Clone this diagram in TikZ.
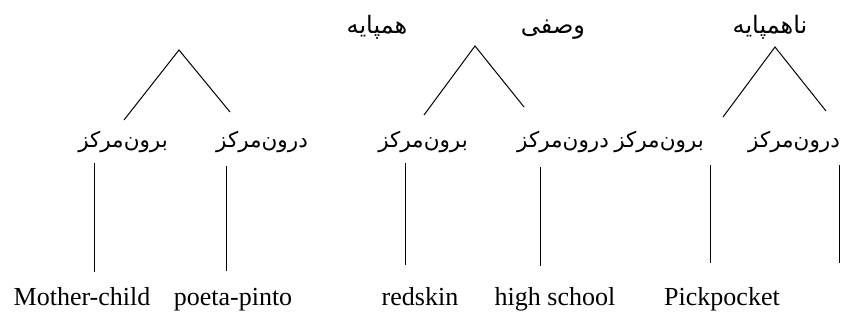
\documentclass[tikz,border=0pt]{standalone}
\usepackage{fontspec}
\setmainfont{Liberation Serif}
\newfontfamily\fa[Script=Arabic]{DejaVu Sans}
\TeXXeTstate=1
\begin{document}
\begin{tikzpicture}[x=1pt,y=-1pt,
  edge/.style={line width=1pt,black},
  falab/.style={anchor=base,inner sep=0pt,font=\fa\fontsize{21.5}{24}\selectfont},
  fatop/.style={anchor=base,inner sep=0pt,font=\fa\fontsize{24}{28}\selectfont},
  enlab/.style={anchor=base,inner sep=0pt,font=\fontsize{26}{30}\selectfont}]
\useasboundingbox (0,0) rectangle (842,320);
% top labels
\node[fatop] (t1) at (377,34) {\beginR همپایه\endR};
\node[fatop] (t2) at (553,34) {\beginR وصفی\endR};
\node[fatop] (t3) at (770,34) {\beginR ناهمپایه\endR};
% apexes and branch ends
\coordinate (a1) at (179,50);
\coordinate (l1) at (124,120);
\coordinate (r1) at (230,112);
\coordinate (a2) at (475,46);
\coordinate (l2) at (424,115);
\coordinate (r2) at (524,107);
\coordinate (a3) at (775,47);
\coordinate (l3) at (723,117);
\coordinate (r3) at (826,111);
\draw[edge] (l1) -- (a1) -- (r1);
\draw[edge] (l2) -- (a2) -- (r2);
\draw[edge] (l3) -- (a3) -- (r3);
% middle labels
\node[falab] (m1) at (123,148) {\beginR برون‌مرکز\endR};
\node[falab] (m2) at (262,148) {\beginR درون‌مرکز\endR};
\node[falab] (m3) at (423,148) {\beginR برون‌مرکز\endR};
\node[falab] (m4) at (563,148) {\beginR درون‌مرکز\endR};
\node[falab] (m5) at (659,148) {\beginR برون‌مرکز\endR};
\node[falab] (m6) at (794,148) {\beginR درون‌مرکز\endR};
% vertical connectors
\coordinate (v1a) at (94,163);  \coordinate (v1b) at (94,272);
\coordinate (v2a) at (226,166); \coordinate (v2b) at (226,271);
\coordinate (v3a) at (405,163); \coordinate (v3b) at (405,265);
\coordinate (v4a) at (540,167); \coordinate (v4b) at (540,266);
\coordinate (v5a) at (710,165); \coordinate (v5b) at (710,263);
\coordinate (v6a) at (839,165); \coordinate (v6b) at (839,263);
\draw[edge] (v1a) -- (v1b);
\draw[edge] (v2a) -- (v2b);
\draw[edge] (v3a) -- (v3b);
\draw[edge] (v4a) -- (v4b);
\draw[edge] (v5a) -- (v5b);
\draw[edge] (v6a) -- (v6b);
% bottom labels
\node[enlab] (b1) at (82,305) {Mother-child};
\node[enlab] (b2) at (233,305) {poeta-pinto};
\node[enlab] (b3) at (420,305) {redskin};
\node[enlab] (b4) at (555,305) {high school};
\node[enlab] (b5) at (722,305) {Pickpocket};
\end{tikzpicture}
\end{document}
